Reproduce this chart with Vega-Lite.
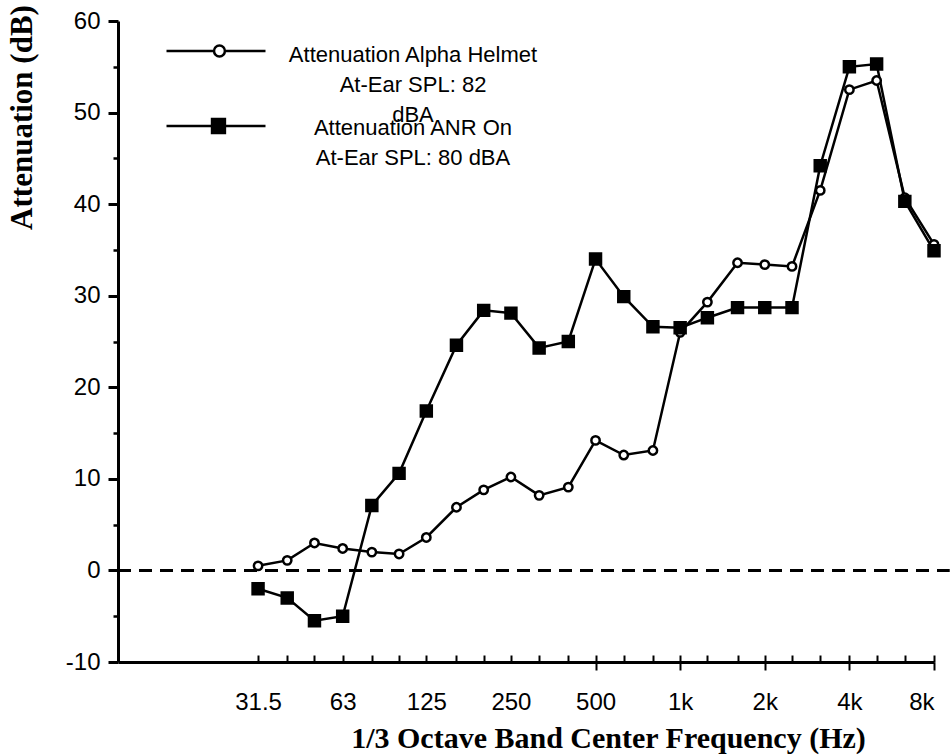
{
  "$schema": "https://vega.github.io/schema/vega-lite/v6.json",
  "width": 816,
  "height": 641,
  "autosize": {"type": "none"},
  "padding": {"left": 118, "top": 21, "right": 16, "bottom": 93},
  "background": "white",
  "config": {
    "view": {"stroke": null},
    "style": {"guide-label": {"lineHeight": 30}},
    "axis": {"grid": false, "labelColor": "black", "tickColor": "black", "domainColor": "black", "titleColor": "black", "labelFont": "Liberation Sans", "titleFont": "Liberation Serif"},
    "legend": {
      "orient": "none", "title": null, "padding": 0, "clipHeight": 60,
      "symbolSize": 9801, "symbolStrokeWidth": 2.5, "symbolStrokeColor": "black", "symbolOpacity": 1,
      "labelFont": "Liberation Sans", "labelFontSize": 22, "labelColor": "black",
      "labelAlign": "center", "labelBaseline": "top", "labelOffset": 146, "labelLimit": 0
    }
  },
  "data": {
    "values": [
      {"band_hz": 31.5, "condition": "Alpha Helmet", "attenuation_db": 0.5},
      {"band_hz": 40, "condition": "Alpha Helmet", "attenuation_db": 1.1},
      {"band_hz": 50, "condition": "Alpha Helmet", "attenuation_db": 3.0},
      {"band_hz": 63, "condition": "Alpha Helmet", "attenuation_db": 2.4},
      {"band_hz": 80, "condition": "Alpha Helmet", "attenuation_db": 2.0},
      {"band_hz": 100, "condition": "Alpha Helmet", "attenuation_db": 1.8},
      {"band_hz": 125, "condition": "Alpha Helmet", "attenuation_db": 3.6},
      {"band_hz": 160, "condition": "Alpha Helmet", "attenuation_db": 6.9},
      {"band_hz": 200, "condition": "Alpha Helmet", "attenuation_db": 8.8},
      {"band_hz": 250, "condition": "Alpha Helmet", "attenuation_db": 10.2},
      {"band_hz": 315, "condition": "Alpha Helmet", "attenuation_db": 8.2},
      {"band_hz": 400, "condition": "Alpha Helmet", "attenuation_db": 9.1},
      {"band_hz": 500, "condition": "Alpha Helmet", "attenuation_db": 14.2},
      {"band_hz": 630, "condition": "Alpha Helmet", "attenuation_db": 12.6},
      {"band_hz": 800, "condition": "Alpha Helmet", "attenuation_db": 13.1},
      {"band_hz": 1000, "condition": "Alpha Helmet", "attenuation_db": 26.0},
      {"band_hz": 1250, "condition": "Alpha Helmet", "attenuation_db": 29.3},
      {"band_hz": 1600, "condition": "Alpha Helmet", "attenuation_db": 33.6},
      {"band_hz": 2000, "condition": "Alpha Helmet", "attenuation_db": 33.4},
      {"band_hz": 2500, "condition": "Alpha Helmet", "attenuation_db": 33.2},
      {"band_hz": 3150, "condition": "Alpha Helmet", "attenuation_db": 41.5},
      {"band_hz": 4000, "condition": "Alpha Helmet", "attenuation_db": 52.5},
      {"band_hz": 5000, "condition": "Alpha Helmet", "attenuation_db": 53.5},
      {"band_hz": 6300, "condition": "Alpha Helmet", "attenuation_db": 40.7},
      {"band_hz": 8000, "condition": "Alpha Helmet", "attenuation_db": 35.6},
      {"band_hz": 31.5, "condition": "ANR On", "attenuation_db": -2.0},
      {"band_hz": 40, "condition": "ANR On", "attenuation_db": -3.0},
      {"band_hz": 50, "condition": "ANR On", "attenuation_db": -5.5},
      {"band_hz": 63, "condition": "ANR On", "attenuation_db": -5.0},
      {"band_hz": 80, "condition": "ANR On", "attenuation_db": 7.1},
      {"band_hz": 100, "condition": "ANR On", "attenuation_db": 10.6},
      {"band_hz": 125, "condition": "ANR On", "attenuation_db": 17.4},
      {"band_hz": 160, "condition": "ANR On", "attenuation_db": 24.6},
      {"band_hz": 200, "condition": "ANR On", "attenuation_db": 28.4},
      {"band_hz": 250, "condition": "ANR On", "attenuation_db": 28.1},
      {"band_hz": 315, "condition": "ANR On", "attenuation_db": 24.3},
      {"band_hz": 400, "condition": "ANR On", "attenuation_db": 25.0},
      {"band_hz": 500, "condition": "ANR On", "attenuation_db": 34.0},
      {"band_hz": 630, "condition": "ANR On", "attenuation_db": 29.9},
      {"band_hz": 800, "condition": "ANR On", "attenuation_db": 26.6},
      {"band_hz": 1000, "condition": "ANR On", "attenuation_db": 26.5},
      {"band_hz": 1250, "condition": "ANR On", "attenuation_db": 27.6},
      {"band_hz": 1600, "condition": "ANR On", "attenuation_db": 28.7},
      {"band_hz": 2000, "condition": "ANR On", "attenuation_db": 28.7},
      {"band_hz": 2500, "condition": "ANR On", "attenuation_db": 28.7},
      {"band_hz": 3150, "condition": "ANR On", "attenuation_db": 44.2},
      {"band_hz": 4000, "condition": "ANR On", "attenuation_db": 55.0},
      {"band_hz": 5000, "condition": "ANR On", "attenuation_db": 55.3},
      {"band_hz": 6300, "condition": "ANR On", "attenuation_db": 40.3},
      {"band_hz": 8000, "condition": "ANR On", "attenuation_db": 34.9}
    ]
  },
  "resolve": {"axis": {"x": "independent", "y": "independent"}},
  "layer": [
    {
      "data": {"values": [{}]},
      "mark": {"type": "rule", "color": "black", "strokeWidth": 3, "strokeDash": [13, 8], "clip": false},
      "encoding": {
        "x": {"datum": 10, "type": "quantitative", "scale": {"type": "log", "domain": [10, 8000], "nice": false}, "axis": null},
        "x2": {"datum": 9100},
        "y": {"datum": 0, "type": "quantitative", "scale": {"domain": [-10, 60], "nice": false, "zero": false}, "axis": null}
      }
    },
    {
      "mark": {"type": "line", "color": "black", "strokeWidth": 2.5},
      "encoding": {
        "x": {
          "field": "band_hz", "type": "quantitative",
          "scale": {"type": "log", "domain": [10, 8000], "nice": false},
          "axis": {
            "orient": "bottom",
            "values": [31.5, 40, 50, 63, 80, 100, 125, 160, 200, 250, 315, 400, 500, 630, 800, 1000, 1250, 1600, 2000, 2500, 3150, 4000, 5000, 6300, 8000],
            "labels": false, "tickSize": -7, "tickWidth": 2, "domainWidth": 3,
            "title": "1/3 Octave Band Center Frequency (Hz)",
            "titleFontSize": 30, "titleFontWeight": "bold",
            "titleX": 490, "titleY": 76, "titleAlign": "center", "titleBaseline": "middle"
          }
        },
        "y": {
          "field": "attenuation_db", "type": "quantitative",
          "scale": {"domain": [-10, 60], "nice": false, "zero": false},
          "axis": {
            "orient": "left",
            "values": [-10, 0, 10, 20, 30, 40, 50, 60],
            "labelExpr": "'' + datum.value",
            "tickSize": 10, "tickWidth": 3, "domainWidth": 3,
            "labelFontSize": 24, "labelPadding": 8,
            "title": "Attenuation (dB)",
            "titleFontSize": 31, "titleFontWeight": "bold",
            "titleAngle": -90, "titleX": -96, "titleY": 96, "titleAlign": "center", "titleBaseline": "middle"
          }
        },
        "detail": {"field": "condition", "type": "nominal"}
      }
    },
    {
      "transform": [{"filter": "datum.condition === 'Alpha Helmet'"}],
      "mark": {"type": "point", "shape": "circle", "stroke": "black", "strokeWidth": 2.5, "size": 70, "opacity": 1, "fillOpacity": 1},
      "encoding": {
        "x": {
          "field": "band_hz", "type": "quantitative",
          "scale": {"type": "log", "domain": [10, 8000], "nice": false},
          "axis": {
            "orient": "bottom",
            "values": [31.5, 63, 125, 250, 500, 1000, 2000, 4000, 8000],
            "domain": false, "tickSize": 8, "tickWidth": 2,
            "tickOpacity": {"condition": {"test": "datum.value < 400", "value": 0}, "value": 1},
            "labelExpr": "datum.value >= 1000 ? (datum.value / 1000) + 'k' : '' + datum.value",
            "labelFontSize": 24, "labelPadding": 20, "title": null
          }
        },
        "y": {
          "field": "attenuation_db", "type": "quantitative",
          "scale": {"domain": [-10, 60], "nice": false, "zero": false},
          "axis": {
            "orient": "left",
            "values": [-5, 5, 15, 25, 35, 45, 55],
            "domain": false, "labels": false, "tickSize": 5, "tickWidth": 2.5, "title": null
          }
        },
        "fill": {
          "field": "condition", "type": "nominal",
          "scale": {"domain": ["Alpha Helmet"], "range": ["white"]},
          "legend": {
            "legendX": 47, "legendY": -6,
            "symbolType": "M-1,0.121H-0.04M0.18,0.121H1M-0.04,0.121A0.11,0.11,0,1,1,0.18,0.121A0.11,0.11,0,1,1,-0.04,0.121Z",
            "symbolFillColor": "white",
            "labelExpr": "['Attenuation Alpha Helmet', 'At-Ear SPL: 82', 'dBA']"
          }
        }
      }
    },
    {
      "transform": [{"filter": "datum.condition === 'ANR On'"}],
      "mark": {"type": "point", "shape": "square", "filled": true, "fill": "black", "strokeWidth": 2.5, "size": 120, "opacity": 1},
      "encoding": {
        "x": {"field": "band_hz", "type": "quantitative", "scale": {"type": "log", "domain": [10, 8000], "nice": false}, "axis": null},
        "y": {"field": "attenuation_db", "type": "quantitative", "scale": {"domain": [-10, 60], "nice": false, "zero": false}, "axis": null},
        "stroke": {
          "field": "condition", "type": "nominal",
          "scale": {"domain": ["ANR On"], "range": ["black"]},
          "legend": {
            "legendX": 47, "legendY": 67,
            "symbolType": "M-1,0.162H1M-0.08,0.022H0.18V0.302H-0.08Z",
            "symbolFillColor": "black",
            "labelExpr": "['Attenuation ANR On', 'At-Ear SPL: 80 dBA']"
          }
        }
      }
    }
  ]
}
